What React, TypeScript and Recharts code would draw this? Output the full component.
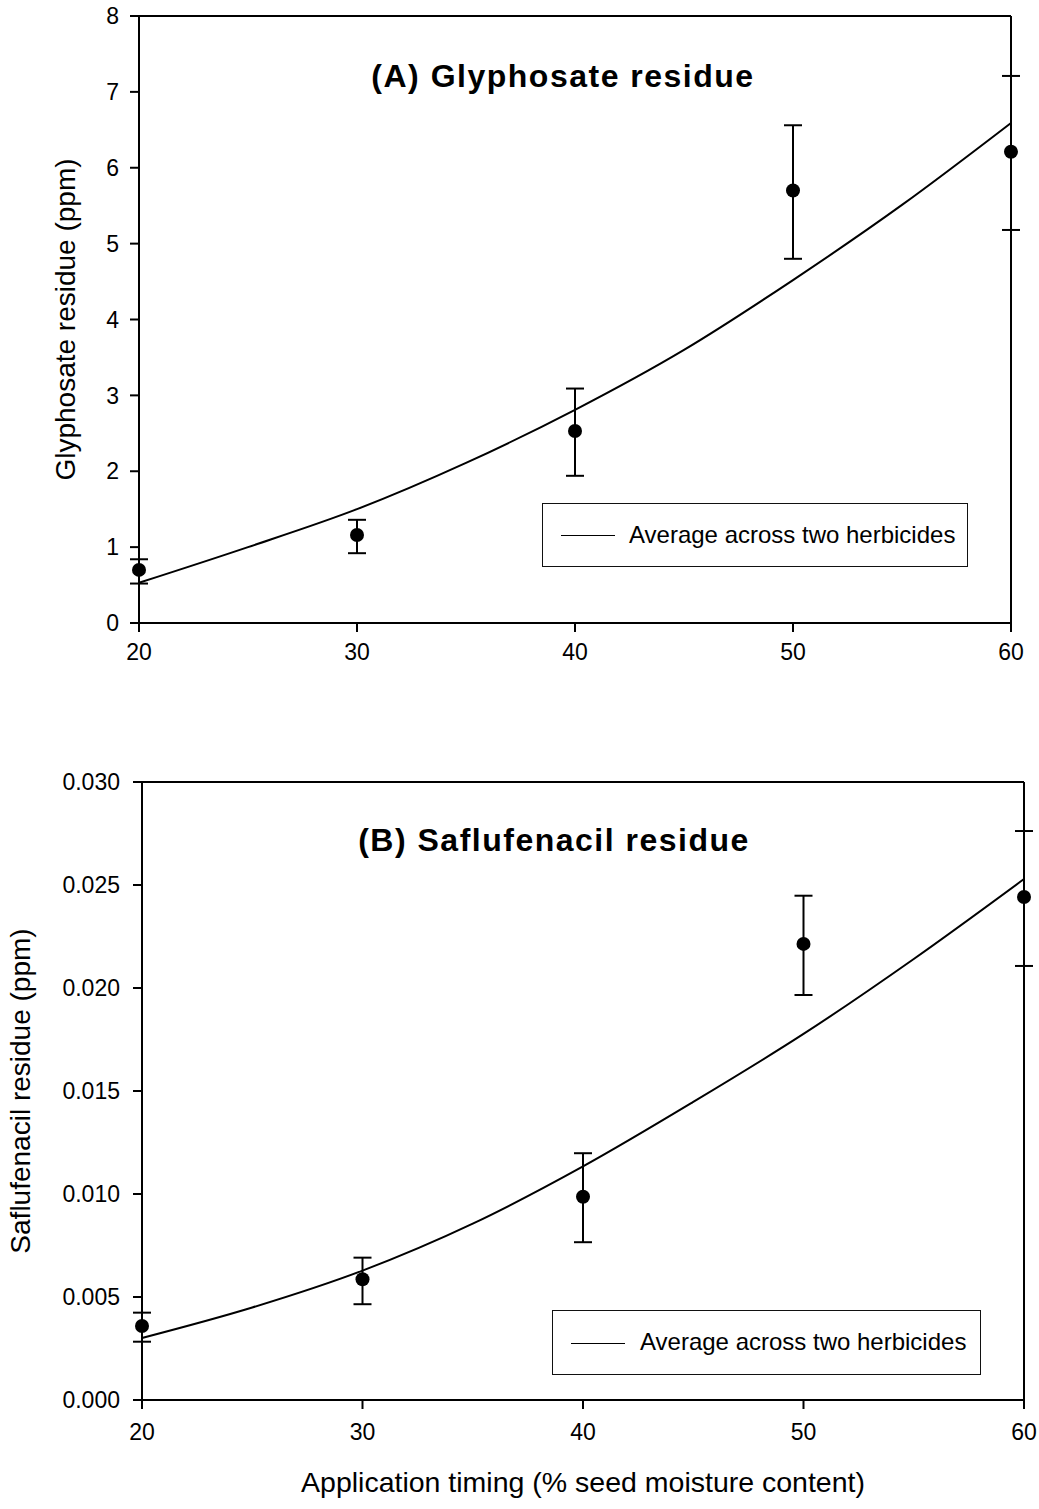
import React from 'react';
import {
  ComposedChart,
  Line,
  Scatter,
  ErrorBar,
  XAxis,
  YAxis,
  Legend,
  ReferenceLine,
} from 'recharts';

const FONT = '"Liberation Sans", Arial, Helvetica, sans-serif';

// x ticks (application timing, % seed moisture)
const xTicks = [20, 30, 40, 50, 60];

// (A) glyphosate
const glyTicks = [0, 1, 2, 3, 4, 5, 6, 7, 8];
const glyX = [20, 30, 40, 50, 60];
const glyMean = [0.7, 1.16, 2.53, 5.7, 6.21];
const glyErrLow = [0.18, 0.24, 0.59, 0.9, 1.03];
const glyErrHigh = [0.14, 0.2, 0.56, 0.86, 1.0];
const glyFitX = [20, 25, 30, 35, 40, 45, 50, 55, 60];
const glyFit = [0.53, 1.0, 1.5, 2.11, 2.81, 3.6, 4.52, 5.51, 6.59];

// (B) saflufenacil
const safTicks = [0, 0.005, 0.01, 0.015, 0.02, 0.025, 0.03];
const safX = [20, 30, 40, 50, 60];
const safMean = [0.00359, 0.00586, 0.00987, 0.02214, 0.02442];
const safErrLow = [0.00076, 0.00121, 0.00221, 0.00248, 0.00335];
const safErrHigh = [0.00065, 0.00105, 0.00211, 0.00234, 0.0032];
const safFitX = [20, 25, 30, 35, 40, 45, 50, 55, 60];
const safFit = [0.00301, 0.00449, 0.00628, 0.00856, 0.01134, 0.01447, 0.01777, 0.02141, 0.02529];

const legendLabel = 'Average across two herbicides';

const toPoints = (xs: number[], ys: number[], lo: number[], hi: number[]) =>
  xs.map((x, i) => ({ x, y: ys[i], err: [lo[i], hi[i]] }));
const toFit = (xs: number[], ys: number[]) => xs.map((x, i) => ({ x, fit: ys[i] }));

const Dot = (props: any) => <circle cx={props.cx} cy={props.cy} r={7} fill="#000" />;

const BoxLegend = ({ width, height, lineX, textX }: any) => (
  <div
    style={{
      width,
      height,
      boxSizing: 'border-box',
      border: '1.5px solid #111',
      background: '#fff',
      position: 'relative',
      fontFamily: FONT,
      fontSize: 24,
      color: '#000',
    }}
  >
    <div
      style={{
        position: 'absolute',
        left: lineX,
        top: height / 2 - 1,
        width: 54,
        borderTop: '1.5px solid #000',
      }}
    />
    <div style={{ position: 'absolute', left: textX, top: 0, lineHeight: `${height - 3}px`, whiteSpace: 'nowrap' }}>
      {legendLabel}
    </div>
  </div>
);

interface PanelProps {
  top: number;
  height: number;
  margin: { top: number; right: number; bottom: number; left: number };
  yWidth: number;
  xHeight: number;
  xTickMargin: number;
  yTickMargin: number;
  domain: [number, number];
  ticks: number[];
  tickFmt: (v: number) => string;
  yLabel: string;
  yLabelOffset: number;
  xLabel?: string;
  fit: any[];
  points: any[];
  legendPos: { left: number; top: number; width: number; height: number; lineX: number; textX: number };
}

function Panel(p: PanelProps) {
  const axisLine = { stroke: '#000', strokeWidth: 2 };
  const tickStyle = { fill: '#000', fontSize: 23, fontFamily: FONT };
  return (
    <div style={{ position: 'absolute', left: 0, top: p.top, width: 1039, height: p.height }}>
      <ComposedChart width={1039} height={p.height} data={p.fit} margin={p.margin}>
        <XAxis
          dataKey="x"
          type="number"
          domain={[20, 60]}
          ticks={xTicks}
          height={p.xHeight}
          axisLine={axisLine}
          tickLine={axisLine}
          tickSize={9}
          tickMargin={p.xTickMargin}
          tick={tickStyle}
          label={
            p.xLabel
              ? { value: p.xLabel, position: 'insideBottom', offset: 8, fill: '#000', fontSize: 28.5, fontFamily: FONT }
              : undefined
          }
        />
        <YAxis
          type="number"
          domain={p.domain}
          ticks={p.ticks}
          width={p.yWidth}
          axisLine={axisLine}
          tickLine={axisLine}
          tickSize={9}
          tickMargin={p.yTickMargin}
          tick={tickStyle}
          tickFormatter={p.tickFmt}
          label={{
            value: p.yLabel,
            angle: -90,
            position: 'insideLeft',
            offset: p.yLabelOffset,
            fill: '#000',
            fontSize: 28,
            fontFamily: FONT,
            style: { textAnchor: 'middle' },
          }}
        />
        {/* closing frame: top and right edges */}
        <ReferenceLine y={p.domain[1]} stroke="#000" strokeWidth={2} />
        <ReferenceLine x={60} stroke="#000" strokeWidth={2} />
        <Legend
          layout="horizontal"
          verticalAlign="middle"
          align="center"
          wrapperStyle={{ left: p.legendPos.left, top: p.legendPos.top, width: p.legendPos.width }}
          content={() => (
            <BoxLegend
              width={p.legendPos.width}
              height={p.legendPos.height}
              lineX={p.legendPos.lineX}
              textX={p.legendPos.textX}
            />
          )}
        />
        <Line
          type="monotone"
          dataKey="fit"
          name={legendLabel}
          stroke="#000"
          strokeWidth={2}
          dot={false}
          activeDot={false}
          isAnimationActive={false}
        />
        <Scatter data={p.points} dataKey="y" fill="#000" shape={Dot} isAnimationActive={false} legendType="none">
          <ErrorBar dataKey="err" direction="y" width={9} stroke="#000" strokeWidth={2} isAnimationActive={false} />
        </Scatter>
      </ComposedChart>
    </div>
  );
}

export default function App() {
  return (
    <div style={{ position: 'absolute', left: 0, top: 0, width: 1039, height: 1509, background: '#fff' }}>
      <Panel
        top={0}
        height={700}
        margin={{ top: 16, right: 28, bottom: 27, left: 0 }}
        yWidth={139}
        xHeight={50}
        xTickMargin={12}
        yTickMargin={11}
        domain={[0, 8]}
        ticks={glyTicks}
        tickFmt={(v) => String(v)}
        yLabel="Glyphosate residue (ppm)"
        yLabelOffset={65}
        fit={toFit(glyFitX, glyFit)}
        points={toPoints(glyX, glyMean, glyErrLow, glyErrHigh)}
        legendPos={{ left: 542, top: 503, width: 426, height: 64, lineX: 18, textX: 86 }}
      />
      <Panel
        top={700}
        height={809}
        margin={{ top: 82, right: 15, bottom: 9, left: 0 }}
        yWidth={142}
        xHeight={100}
        xTickMargin={15}
        yTickMargin={13}
        domain={[0, 0.03]}
        ticks={safTicks}
        tickFmt={(v) => v.toFixed(3)}
        yLabel="Saflufenacil residue (ppm)"
        yLabelOffset={20}
        xLabel="Application timing (% seed moisture content)"
        fit={toFit(safFitX, safFit)}
        points={toPoints(safX, safMean, safErrLow, safErrHigh)}
        legendPos={{ left: 552, top: 610, width: 429, height: 65, lineX: 18, textX: 87 }}
      />
      <svg
        width={1039}
        height={1509}
        style={{ position: 'absolute', left: 0, top: 0, pointerEvents: 'none' }}
      >
        <text x={563} y={87} textAnchor="middle" fontFamily={FONT} fontWeight="bold" fontSize={32} letterSpacing={1.5} fill="#000">
          (A) Glyphosate residue
        </text>
        <text x={554} y={851} textAnchor="middle" fontFamily={FONT} fontWeight="bold" fontSize={32} letterSpacing={1.5} fill="#000">
          (B) Saflufenacil residue
        </text>
      </svg>
    </div>
  );
}
